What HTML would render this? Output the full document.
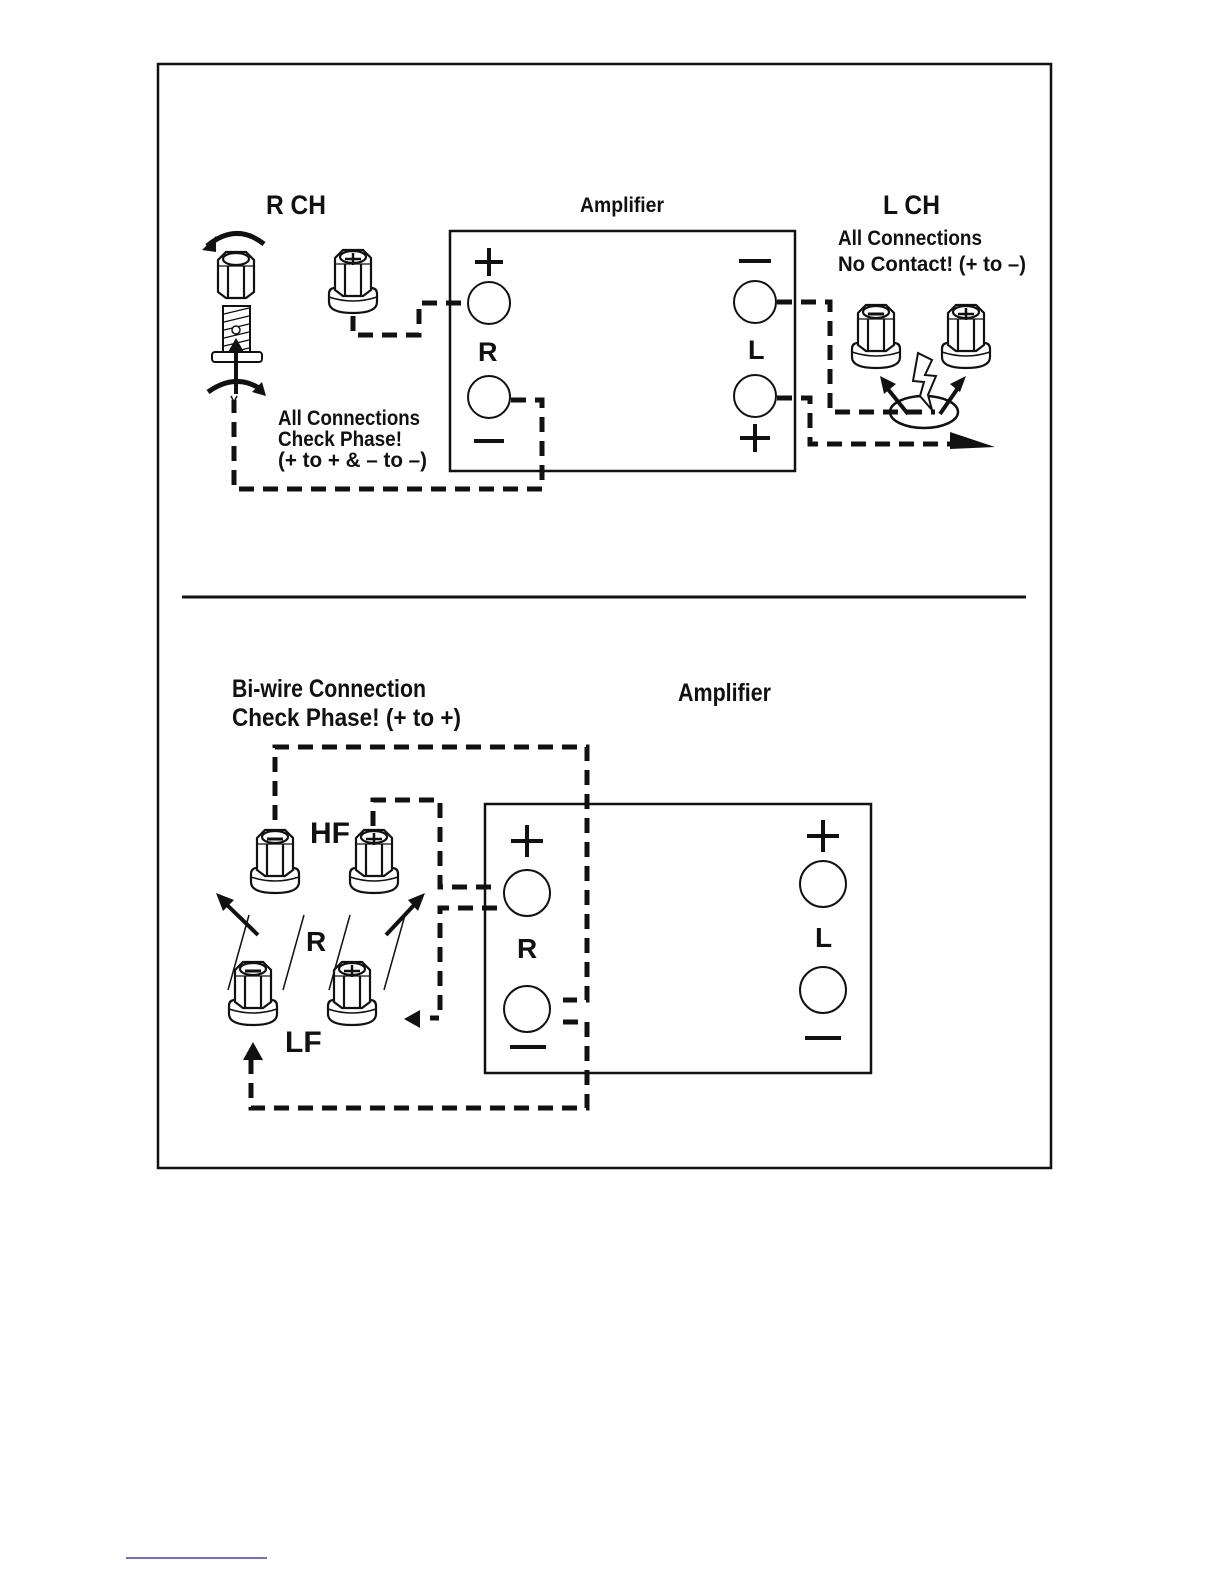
<!DOCTYPE html>
<html><head><meta charset="utf-8"><style>
html,body{margin:0;padding:0;background:#fff;overflow:hidden;width:1224px;height:1584px}
svg{display:block}
text{font-family:"Liberation Sans Narrow","Liberation Sans",sans-serif;font-weight:bold;fill:#111}
</style></head><body>
<svg width="1224" height="1584" viewBox="0 0 1224 1584" xmlns="http://www.w3.org/2000/svg">
<defs>
<g id="cap" fill="#fff" stroke="#111" stroke-width="2.2">
<path d="M-18,8 L-10,0 L10,0 L18,8 L18,40 L10,46 L-10,46 L-18,40 Z"/>
<ellipse cx="0" cy="7" rx="13" ry="6"/>
<line x1="-8" y1="14" x2="-8" y2="46"/><line x1="8" y1="14" x2="8" y2="46"/>
<line x1="-18" y1="14" x2="18" y2="14" stroke-width="1.2"/>
</g>
<g id="post">
<path d="M-24,44 Q-24,38 -18,38 L18,38 Q24,38 24,44 L24,52 Q24,63 0,63 Q-24,63 -24,52 Z" fill="#fff" stroke="#111" stroke-width="2.2"/>
<path d="M-24,47 Q0,55 24,47" fill="none" stroke="#111" stroke-width="1.5"/>
<use href="#cap"/>
</g>
<g id="minus"><line x1="-8" y1="7" x2="8" y2="7" stroke="#111" stroke-width="3"/></g>
<g id="plus"><line x1="-8" y1="7" x2="8" y2="7" stroke="#111" stroke-width="2.5"/><line x1="0" y1="1" x2="0" y2="13" stroke="#111" stroke-width="2.5"/></g>
</defs>

<rect x="158" y="64" width="893" height="1104" fill="none" stroke="#111" stroke-width="2.5"/>
<line x1="182" y1="597" x2="1026" y2="597" stroke="#111" stroke-width="3"/>

<!-- TOP -->
<text x="266" y="214" font-size="27" textLength="60" lengthAdjust="spacingAndGlyphs">R CH</text>
<text x="580" y="212" font-size="21" textLength="84" lengthAdjust="spacingAndGlyphs">Amplifier</text>
<text x="883" y="214" font-size="27" textLength="57" lengthAdjust="spacingAndGlyphs">L CH</text>
<text x="838" y="245" font-size="21" textLength="144" lengthAdjust="spacingAndGlyphs">All Connections</text>
<text x="838" y="271" font-size="21" textLength="188" lengthAdjust="spacingAndGlyphs">No Contact! (+ to –)</text>
<text x="278" y="425" font-size="21" textLength="142" lengthAdjust="spacingAndGlyphs">All Connections</text>
<text x="278" y="446" font-size="21" textLength="124" lengthAdjust="spacingAndGlyphs">Check Phase!</text>
<text x="278" y="467" font-size="21" textLength="149" lengthAdjust="spacingAndGlyphs">(+ to + &amp; – to –)</text>

<rect x="450" y="231" width="345" height="240" fill="none" stroke="#111" stroke-width="2.5"/>
<g fill="#fff" stroke="#111" stroke-width="2">
<circle cx="489" cy="303" r="21"/><circle cx="489" cy="397" r="21"/>
<circle cx="755" cy="302" r="21"/><circle cx="755" cy="396" r="21"/>
</g>
<g stroke="#111" stroke-width="4">
<line x1="475" y1="262" x2="503" y2="262"/><line x1="489" y1="248" x2="489" y2="276"/>
<line x1="474" y1="441" x2="504" y2="441"/>
<line x1="739" y1="261" x2="771" y2="261"/>
<line x1="740" y1="438" x2="770" y2="438"/><line x1="755" y1="424" x2="755" y2="452"/>
</g>
<text x="478" y="361" font-size="27">R</text>
<text x="748" y="359" font-size="27">L</text>

<g fill="none" stroke="#111" stroke-width="5" stroke-dasharray="15 9">
<path d="M353,316 V335 H419 V303 H468"/>
<path d="M511,400 H542 V489 H234 V400"/>
<path d="M777,302 H830 V412 H935"/>
<path d="M777,398 H810 V444 H960"/>
</g>
<polygon points="950,432 995,447 950,449" fill="#111"/>

<!-- left exploded post -->
<path d="M207,246 Q236,222 264,244" fill="none" stroke="#111" stroke-width="5"/>
<polygon points="202,250 216,236 216,252" fill="#111"/>
<use href="#cap" x="236" y="252"/>
<rect x="223" y="306" width="27" height="50" fill="#fff" stroke="#111" stroke-width="2"/>
<g stroke="#111" stroke-width="1.4">
<line x1="224" y1="314" x2="249" y2="308"/><line x1="224" y1="322" x2="249" y2="316"/><line x1="224" y1="330" x2="249" y2="324"/><line x1="224" y1="338" x2="249" y2="332"/><line x1="224" y1="346" x2="249" y2="340"/><line x1="224" y1="354" x2="249" y2="348"/>
</g>
<circle cx="236" cy="330" r="4" fill="#fff" stroke="#111" stroke-width="1.5"/>
<rect x="212" y="352" width="50" height="10" rx="3" fill="#fff" stroke="#111" stroke-width="2"/>
<line x1="236" y1="394" x2="236" y2="345" stroke="#111" stroke-width="4"/>
<polygon points="228,352 236,338 244,352" fill="#111"/>
<path d="M208,392 Q236,372 262,390" fill="none" stroke="#111" stroke-width="5"/>
<polygon points="266,396 252,392 262,382" fill="#111"/>
<path d="M231,396 L234,402 L237,396 M234,402 V407" fill="none" stroke="#111" stroke-width="1.5"/>

<use href="#post" x="353" y="250"/>
<use href="#plus" x="353" y="252"/>

<use href="#post" x="876" y="305"/><use href="#minus" x="876" y="307"/>
<use href="#post" x="966" y="305"/><use href="#plus" x="966" y="307"/>

<ellipse cx="924" cy="412" rx="34" ry="16" fill="none" stroke="#111" stroke-width="2.5"/>
<path d="M918,353 L932,360 L925,375 L936,376 L928,395 L932,410 L920,396 L924,382 L913,381 Z" fill="#fff" stroke="#111" stroke-width="2"/>
<line x1="908" y1="414" x2="887" y2="388" stroke="#111" stroke-width="4"/>
<polygon points="880,376 896,384 884,394" fill="#111"/>
<line x1="940" y1="414" x2="958" y2="388" stroke="#111" stroke-width="4"/>
<polygon points="966,376 960,392 950,384" fill="#111"/>

<!-- BOTTOM -->
<text x="232" y="697" font-size="25" textLength="194" lengthAdjust="spacingAndGlyphs">Bi-wire Connection</text>
<text x="232" y="726" font-size="25" textLength="229" lengthAdjust="spacingAndGlyphs">Check Phase! (+ to +)</text>
<text x="678" y="701" font-size="25" textLength="93" lengthAdjust="spacingAndGlyphs">Amplifier</text>

<rect x="485" y="804" width="386" height="269" fill="none" stroke="#111" stroke-width="2.5"/>
<g fill="#fff" stroke="#111" stroke-width="2">
<circle cx="527" cy="893" r="23"/><circle cx="527" cy="1009" r="23"/>
<circle cx="823" cy="884" r="23"/><circle cx="823" cy="990" r="23"/>
</g>
<g stroke="#111" stroke-width="4">
<line x1="511" y1="841" x2="543" y2="841"/><line x1="527" y1="825" x2="527" y2="857"/>
<line x1="510" y1="1047" x2="546" y2="1047"/>
<line x1="807" y1="836" x2="839" y2="836"/><line x1="823" y1="820" x2="823" y2="852"/>
<line x1="805" y1="1038" x2="841" y2="1038"/>
</g>
<text x="517" y="958" font-size="28">R</text>
<text x="815" y="947" font-size="28">L</text>
<text x="310" y="843" font-size="30">HF</text>
<text x="306" y="951" font-size="28">R</text>
<text x="285" y="1052" font-size="30">LF</text>

<g fill="none" stroke="#111" stroke-width="5" stroke-dasharray="15 9">
<path d="M275,820 V747 H587 V1000 H563"/>
<path d="M563,1022 H587 V1108 H251 V1058"/>
<path d="M373,826 V800 H440 V887 H497"/>
<path d="M497,908 H440 V1018 H430"/>
</g>
<polygon points="243,1060 253,1042 263,1060" fill="#111"/>
<polygon points="404,1019 420,1010 420,1028" fill="#111"/>

<use href="#post" x="275" y="830"/><use href="#minus" x="275" y="832"/>
<use href="#post" x="374" y="830"/><use href="#plus" x="374" y="832"/>
<use href="#post" x="253" y="962"/><use href="#minus" x="253" y="964"/>
<use href="#post" x="352" y="962"/><use href="#plus" x="352" y="964"/>

<g stroke="#111" stroke-width="1.5">
<line x1="249" y1="915" x2="228" y2="990"/><line x1="304" y1="915" x2="283" y2="990"/>
<line x1="350" y1="915" x2="329" y2="990"/><line x1="405" y1="915" x2="384" y2="990"/>
</g>
<line x1="258" y1="935" x2="225" y2="903" stroke="#111" stroke-width="4"/>
<polygon points="216,893 234,900 223,911" fill="#111"/>
<line x1="386" y1="935" x2="416" y2="903" stroke="#111" stroke-width="4"/>
<polygon points="425,893 418,911 408,900" fill="#111"/>

<line x1="126" y1="1558" x2="267" y2="1558" stroke="#1a1aa0" stroke-width="1.2"/>
</svg>
</body></html>
